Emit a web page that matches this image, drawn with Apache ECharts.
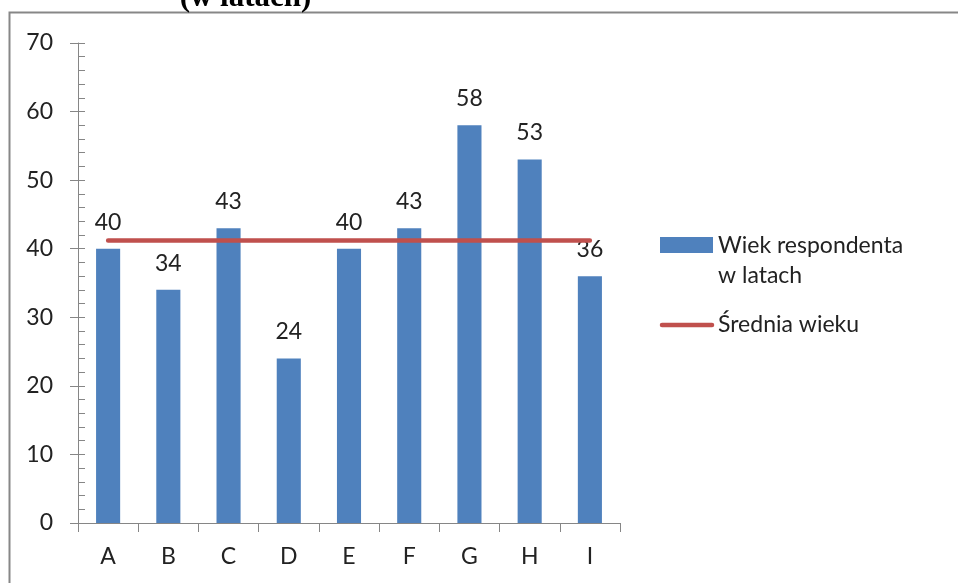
<!DOCTYPE html>
<html>
<head>
<meta charset="utf-8">
<script src="https://cdn.jsdelivr.net/npm/echarts@6/dist/echarts.min.js"></script>
<style>
  html, body { margin: 0; padding: 0; background: #fff; }
  #chart { width: 958px; height: 583px; }
</style>
</head>
<body>
<div id="chart"></div>
<script>
// Respondents and their ages
const categories = ['A', 'B', 'C', 'D', 'E', 'F', 'G', 'H', 'I'];
const ages = [40, 34, 43, 24, 40, 43, 58, 53, 36];
// Mean age drawn as a flat line across all respondents
const meanAge = [41.2, 41.2, 41.2, 41.2, 41.2, 41.2, 41.2, 41.2, 41.2];

const seriesNames = ['Wiek respondenta w latach', 'Średnia wieku'];
const legendLabels = ['Wiek respondenta\nw latach', 'Średnia wieku'];
const titleText = '(w latach)';

const FONT = 'Lato, "Open Sans", sans-serif';
const TEXT = '#222';
const AXIS = '#868686';
const BLUE = '#4F81BD';
const RED = '#C0504D';

const chart = echarts.init(document.getElementById('chart'), null, { renderer: 'canvas' });

chart.setOption({
  animation: false,
  backgroundColor: '#fff',
  textStyle: { fontFamily: FONT },
  grid: { left: 78, right: 338, top: 43, bottom: 60, containLabel: false },
  xAxis: {
    type: 'category',
    data: categories,
    axisLine: { lineStyle: { color: AXIS, width: 1 } },
    axisTick: { show: true, alignWithLabel: false, length: 9, lineStyle: { color: AXIS } },
    axisLabel: { color: TEXT, fontSize: 23, fontFamily: FONT, margin: 22 },
    splitLine: { show: false }
  },
  yAxis: [
    {
      type: 'value', min: 0, max: 70, interval: 10,
      axisLine: { show: true, lineStyle: { color: AXIS, width: 1 } },
      axisTick: { show: true, length: 8, lineStyle: { color: AXIS } },
      axisLabel: { color: TEXT, fontSize: 23, fontFamily: FONT, margin: 25 },
      splitLine: { show: false }
    },
    {
      // inner half of the major ticks plus the minor ticks
      type: 'value', min: 0, max: 70, interval: 10, position: 'left', offset: 0,
      axisLine: { show: false },
      axisTick: { show: true, inside: true, length: 7, lineStyle: { color: AXIS } },
      minorTick: { show: true, splitNumber: 5, length: 7, lineStyle: { color: AXIS } },
      axisLabel: { show: false },
      splitLine: { show: false }
    }
  ],
  series: [
    {
      name: seriesNames[0],
      type: 'bar',
      data: ages,
      barWidth: '40%',
      itemStyle: { color: BLUE },
      label: {
        show: true, position: 'top', distance: 15,
        color: TEXT, fontSize: 23, fontFamily: FONT
      }
    },
    {
      name: seriesNames[1],
      type: 'line',
      data: meanAge,
      symbol: 'none',
      lineStyle: { color: RED, width: 4.5, cap: 'round' },
      z: 5
    }
  ],
  graphic: [
    // outer frame
    { type: 'rect', shape: { x: 9.5, y: 12.5, width: 1200, height: 1200 },
      style: { fill: 'none', stroke: '#878787', lineWidth: 2 }, silent: true },
    // title, partly above the frame
    { type: 'text', x: 245.5, y: 13,
      style: { text: titleText, font: 'bold 31px "Liberation Serif", "DejaVu Serif", serif',
               fill: '#000', align: 'center', verticalAlign: 'bottom' } },
    // legend: bars
    { type: 'rect', shape: { x: 660, y: 237, width: 53, height: 16 }, style: { fill: BLUE } },
    { type: 'text', left: 718, top: 231,
      style: { text: legendLabels[0], font: '23px ' + FONT, fill: TEXT,
               verticalAlign: 'top', lineHeight: 30 } },
    // legend: mean line
    { type: 'line', shape: { x1: 662, y1: 325, x2: 712, y2: 325 },
      style: { stroke: RED, lineWidth: 4.5, lineCap: 'round' } },
    { type: 'text', x: 718, y: 325,
      style: { text: legendLabels[1], font: '23px ' + FONT, fill: TEXT, verticalAlign: 'middle' } }
  ]
});
</script>
</body>
</html>
